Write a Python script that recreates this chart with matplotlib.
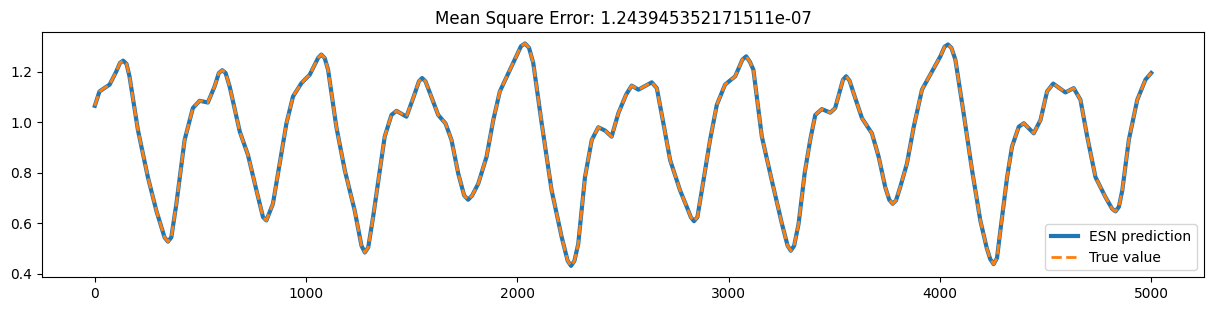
import numpy as np
import matplotlib
matplotlib.use("Agg")
import matplotlib.pyplot as plt

# values (time step, signal value)
steps = [0, 22, 70, 101, 119, 134, 150, 164, 204, 251, 291, 330, 346, 362, 386,
         425, 464, 496, 535, 567, 587, 603, 619, 638, 686, 725, 765, 796, 812,
         843, 875, 907, 938, 978, 1017, 1057, 1072, 1088, 1104, 1143, 1183, 1230,
         1262, 1278, 1294, 1317, 1349, 1372, 1404, 1428, 1475, 1507, 1534, 1549,
         1565, 1586, 1625, 1660, 1688, 1720, 1748, 1767, 1786, 1815, 1854, 1886,
         1917, 1973, 2017, 2036, 2055, 2075, 2115, 2162, 2210, 2238, 2254, 2270,
         2288, 2320, 2352, 2383, 2415, 2446, 2478, 2515, 2541, 2573, 2636, 2660,
         2691, 2723, 2770, 2809, 2821, 2836, 2852, 2873, 2912, 2944, 2983, 3031,
         3065, 3083, 3100, 3117, 3157, 3204, 3252, 3279, 3294, 3310, 3331, 3360,
         3386, 3410, 3441, 3481, 3504, 3528, 3541, 3556, 3572, 3591, 3631, 3678,
         3710, 3741, 3760, 3776, 3792, 3812, 3844, 3876, 3915, 3963, 4002, 4022,
         4038, 4054, 4073, 4112, 4152, 4191, 4222, 4238, 4254, 4270, 4286, 4318,
         4341, 4373, 4397, 4444, 4476, 4507, 4536, 4594, 4633, 4665, 4697, 4736,
         4783, 4815, 4831, 4847, 4863, 4894, 4934, 4973, 5000]

true_value = [1.065, 1.122, 1.149, 1.200, 1.235, 1.244, 1.231, 1.182, 0.969, 0.783,
              0.650, 0.544, 0.527, 0.544, 0.677, 0.930, 1.056, 1.085, 1.078, 1.142,
              1.195, 1.206, 1.195, 1.142, 0.963, 0.870, 0.730, 0.624, 0.611, 0.677,
              0.837, 0.996, 1.102, 1.155, 1.188, 1.255, 1.268, 1.254, 1.208, 0.982,
              0.810, 0.650, 0.511, 0.484, 0.504, 0.624, 0.810, 0.943, 1.029, 1.045,
              1.022, 1.096, 1.162, 1.175, 1.162, 1.116, 1.029, 0.995, 0.930, 0.797,
              0.710, 0.693, 0.710, 0.757, 0.863, 1.009, 1.122, 1.222, 1.301, 1.312,
              1.295, 1.235, 0.996, 0.730, 0.544, 0.451, 0.431, 0.451, 0.518, 0.783,
              0.930, 0.980, 0.967, 0.943, 1.036, 1.110, 1.145, 1.129, 1.158, 1.135,
              0.996, 0.850, 0.730, 0.650, 0.624, 0.608, 0.624, 0.730, 0.930, 1.069,
              1.149, 1.182, 1.248, 1.261, 1.240, 1.208, 0.943, 0.770, 0.598, 0.511,
              0.491, 0.511, 0.598, 0.800, 0.930, 1.029, 1.052, 1.038, 1.056, 1.129,
              1.168, 1.182, 1.165, 1.116, 1.016, 0.956, 0.863, 0.743, 0.693, 0.677,
              0.690, 0.743, 0.837, 0.982, 1.129, 1.202, 1.261, 1.299, 1.308, 1.295,
              1.248, 1.036, 0.810, 0.611, 0.500, 0.458, 0.438, 0.462, 0.571, 0.783,
              0.903, 0.982, 0.996, 0.956, 1.009, 1.122, 1.153, 1.118, 1.135, 1.089,
              0.943, 0.783, 0.704, 0.657, 0.647, 0.665, 0.730, 0.930, 1.089, 1.169,
              1.195]

# prediction is visually identical to the true signal
esn_prediction = list(true_value)
mse = "1.243945352171511e-07"

fig, ax = plt.subplots(figsize=(12.14, 3.11), dpi=100)
fig.subplots_adjust(left=0.0346, right=0.9918, top=0.896, bottom=0.1093)

ax.plot(steps, esn_prediction, color="C0", lw=3, label="ESN prediction")
ax.plot(steps, true_value, color="C1", lw=2, ls="--", label="True value")
ax.set_title("Mean Square Error: " + mse)
ax.legend(loc="lower right")

fig.savefig("out.png", dpi=100)
